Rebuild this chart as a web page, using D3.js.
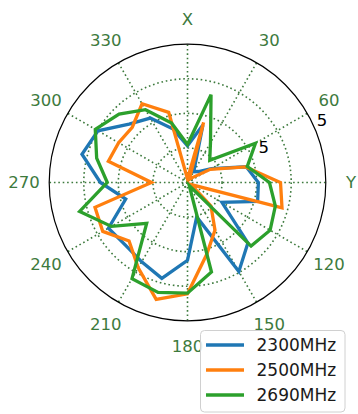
<!DOCTYPE html>
<html>
<head>
<meta charset="utf-8">
<script src="https://cdn.jsdelivr.net/npm/d3@7"></script>
<style>
  html, body { margin: 0; padding: 0; background: #fff; }
  svg { display: block; font-family: "DejaVu Sans", sans-serif; }
</style>
</head>
<body>
<svg id="chart" width="358" height="414"></svg>
<script>
// ---- data ----
const angles = [0, 15, 30, 45, 60, 75, 90, 105, 120, 135, 150, 165,
                180, 195, 210, 225, 240, 255, 270, 285, 300, 315, 330, 345];
const seriesNames = ["2300MHz", "2500MHz", "2690MHz"];
const s2300 = [1.06, 1.72, 0.36, 0.45, 0.8, 1.76, 2.05, 2.10, 1.15, 2.47, 2.97, 1.03,
               2.25, 2.87, 2.65, 2.55, 2.64, 1.85, 2.52, 3.16, 2.99, 2.39, 2.15, 1.6];
const s2500 = [0.1, 1.8, 0.1, 0.2, 0.76, 1.74, 2.69, 2.83, 0.12, 0.96, 1.59, 2.15,
               3.22, 3.5, 2.85, 2.39, 2.83, 2.77, 1.04, 2.37, 2.3, 2.26, 2.63, 2.1];
const s2690 = [1.1, 2.63, 1.33, 0.91, 2.27, 1.79, 2.37, 2.63, 2.76, 2.6, 0.1, 2.68,
               3.2, 3.29, 3.21, 1.67, 2.54, 3.23, 2.32, 2.72, 3.08, 2.8, 2.43, 1.78];
const angleTicks = [0, 30, 60, 90, 120, 150, 180, 210, 240, 270, 300, 330];
const angleTickLabels = ["X", "30", "60", "Y", "120", "150", "180", "210", "240", "270", "300", "330"];
const radialGrid = [0.14, 1, 2, 3];
const radialLabelValues = [2.43, 4.28];
const radialLabels = ["5", "5"];
const rMax = 4;

// ---- layout ----
const cx = 187.5, cy = 182.5, R = 138.3;
const colors = ["#1f77b4", "#ff7f0e", "#2ca02c"];
const gridColor = "#3d7a3d";
const svg = d3.select("#chart");
const r = d3.scaleLinear().domain([0, rMax]).range([0, R]);
const rad = d => d * Math.PI / 180;
const g = svg.append("g").attr("transform", `translate(${cx},${cy})`);

// grid circles
g.selectAll("circle.grid").data(radialGrid).enter().append("circle")
  .attr("r", d => r(d)).attr("fill", "none")
  .attr("stroke", gridColor).attr("stroke-width", 1.6)
  .attr("stroke-dasharray", "1.6,2.8");

// spokes
g.selectAll("line.spoke").data(angleTicks).enter().append("line")
  .attr("x1", 0).attr("y1", 0)
  .attr("x2", d => r(rMax) * Math.sin(rad(d)))
  .attr("y2", d => -r(rMax) * Math.cos(rad(d)))
  .attr("stroke", gridColor).attr("stroke-width", 1.6)
  .attr("stroke-dasharray", "1.6,2.8");

// series
const seriesData = [s2300, s2500, s2690];
const line = d3.lineRadial()
  .angle((d, i) => rad(angles[i]))
  .radius(d => r(d))
  .curve(d3.curveLinearClosed);
seriesData.forEach((s, k) => {
  g.append("path").datum(s)
    .attr("d", line)
    .attr("fill", "none")
    .attr("stroke", colors[k])
    .attr("stroke-width", 3.3)
    .attr("stroke-linejoin", "miter");
});

// outer spine
g.append("circle").attr("r", r(rMax)).attr("fill", "none")
  .attr("stroke", "#000").attr("stroke-width", 1.2);

// angular labels
g.selectAll("text.alab").data(angleTicks).enter().append("text")
  .attr("x", d => (R + 25.2) * Math.sin(rad(d)))
  .attr("y", d => -(R + 25.2) * Math.cos(rad(d)))
  .attr("text-anchor", "middle")
  .attr("dominant-baseline", "central")
  .attr("font-size", 16.5)
  .attr("fill", gridColor)
  .text((d, i) => angleTickLabels[i]);

// radial labels
const rlAngle = 65.3;
g.selectAll("text.rlab").data(radialLabelValues).enter().append("text")
  .attr("x", d => r(d) * Math.sin(rad(rlAngle)))
  .attr("y", d => -r(d) * Math.cos(rad(rlAngle)))
  .attr("text-anchor", "middle")
  .attr("dominant-baseline", "central")
  .attr("font-size", 16.5)
  .attr("fill", "#000")
  .text((d, i) => radialLabels[i]);

// legend
const lg = svg.append("g");
lg.append("rect").attr("x", 200.5).attr("y", 330.5).attr("width", 144.5).attr("height", 81.5)
  .attr("rx", 4).attr("fill", "#fff").attr("fill-opacity", 0.85)
  .attr("stroke", "#d0d0d0").attr("stroke-width", 1);
seriesNames.forEach((n, i) => {
  const y = 345 + i * 25;
  lg.append("line").attr("x1", 206).attr("x2", 244).attr("y1", y).attr("y2", y)
    .attr("stroke", colors[i]).attr("stroke-width", 3.6);
  lg.append("text").attr("x", 256.5).attr("y", y).attr("dominant-baseline", "central")
    .attr("font-size", 17).attr("fill", "#1a1a1a").text(n);
});
</script>
</body>
</html>
